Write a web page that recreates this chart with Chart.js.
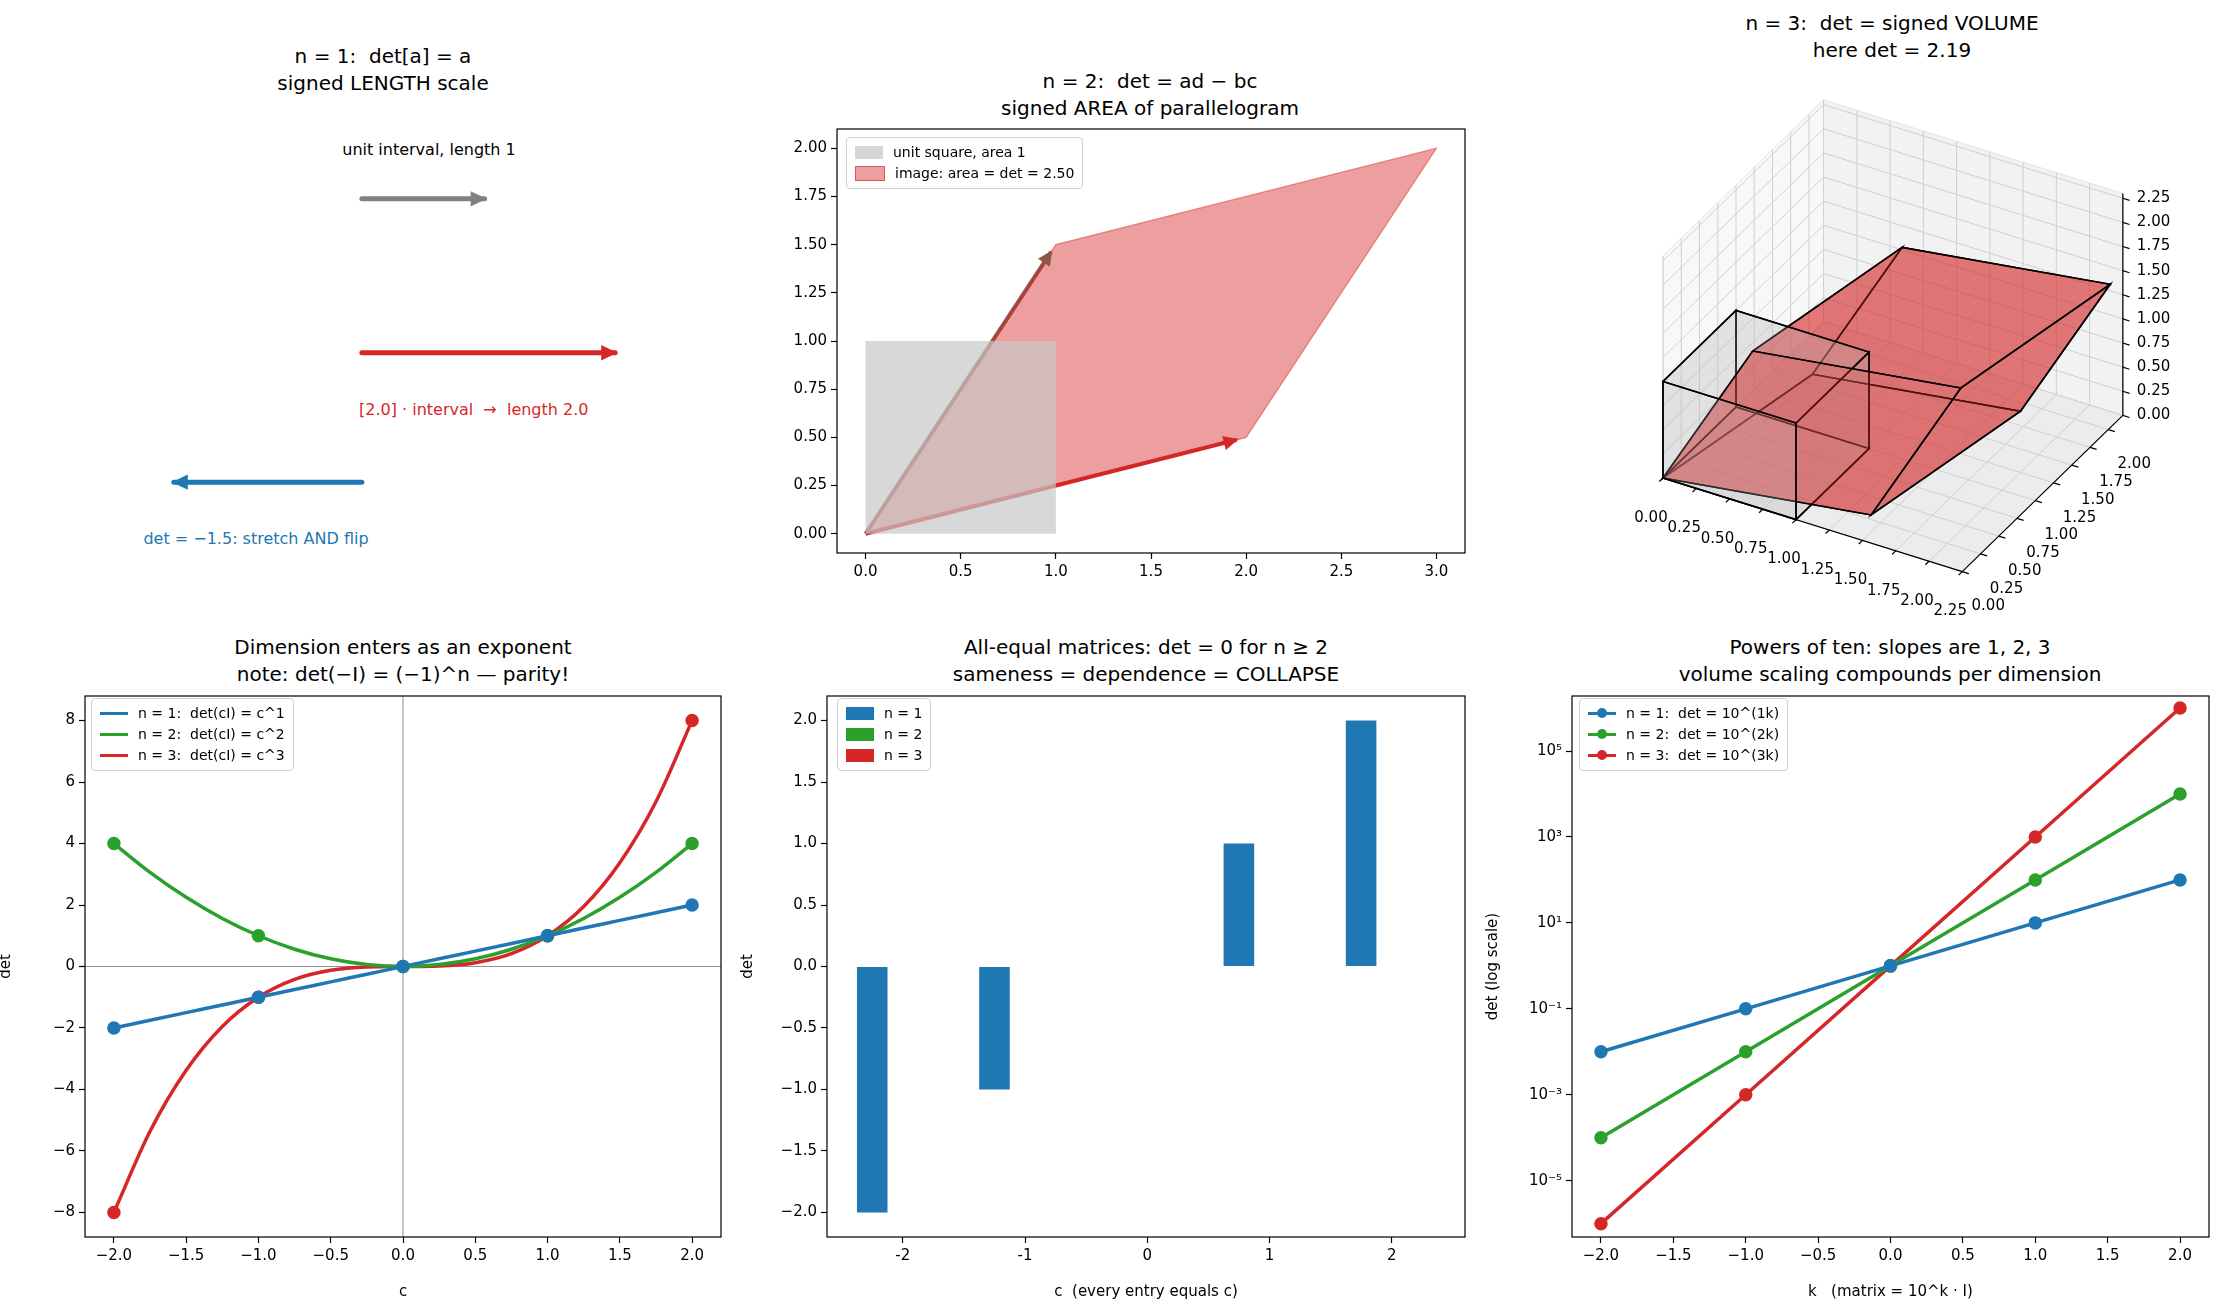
<!DOCTYPE html>
<html>
<head>
<meta charset="utf-8">
<script src="https://cdn.jsdelivr.net/npm/chart.js@4.4.1/dist/chart.umd.min.js"></script>
<style>
  body { margin: 0; background: #fff; font-family: "DejaVu Sans", sans-serif; }
  #fig { position: relative; width: 2225px; height: 1310px; overflow: hidden; }
  .box { position: absolute; }
  .ttl { position: absolute; font-size: 20px; text-align: center; line-height: 27px; white-space: nowrap; transform: translateX(-50%); }
  .txt { position: absolute; font-size: 16px; white-space: nowrap; }
  .leg { position: absolute; border: 1px solid #d0d0d0; border-radius: 4px; background: rgba(255,255,255,0.85); padding: 4px 8px; font-size: 14px; line-height: 21px; }
  .leg div { display: flex; align-items: center; white-space: nowrap; }
  .sw { display: inline-block; width: 28px; height: 13px; margin-right: 10px; }
  .ln { display: inline-block; width: 28px; height: 3px; margin-right: 10px; position: relative; }
  .ln i { position: absolute; left: 9px; top: -4px; width: 10px; height: 10px; border-radius: 50%; background: inherit; }
</style>
</head>
<body>
<div id="fig">
  <div class="ttl" style="left:383px;top:43px">n = 1:&nbsp; det[a] = a<br>signed LENGTH scale</div>
  <div class="ttl" style="left:1150px;top:68px">n = 2:&nbsp; det = ad − bc<br>signed AREA of parallelogram</div>
  <div class="ttl" style="left:1892px;top:10px">n = 3:&nbsp; det = signed VOLUME<br>here det = 2.19</div>
  <div class="ttl" style="left:403px;top:634px">Dimension enters as an exponent<br>note: det(−I) = (−1)^n — parity!</div>
  <div class="ttl" style="left:1146px;top:634px">All-equal matrices: det = 0 for n ≥ 2<br>sameness = dependence = COLLAPSE</div>
  <div class="ttl" style="left:1890px;top:634px">Powers of ten: slopes are 1, 2, 3<br>volume scaling compounds per dimension</div>

  <div class="txt" style="left:429px;top:140px;transform:translateX(-50%)">unit interval, length 1</div>
  <div class="txt" style="left:359px;top:400px;color:#d62728">[2.0] · interval &nbsp;→&nbsp; length 2.0</div>
  <div class="txt" style="left:256px;top:529px;transform:translateX(-50%);color:#1f77b4">det = −1.5: stretch AND flip</div>

  <div class="box" id="b1"><canvas id="c1"></canvas></div>
  <div class="box" id="b2"><canvas id="c2"></canvas></div>
  <div class="box" id="b3"><canvas id="c3"></canvas></div>
  <div class="box" id="b4"><canvas id="c4"></canvas></div>
  <div class="box" id="b5"><canvas id="c5"></canvas></div>
  <div class="box" id="b6"><canvas id="c6"></canvas></div>

  <div class="leg" style="left:846px;top:137px">
    <div><span class="sw" style="background:rgba(200,200,200,0.75)"></span>unit square, area 1</div>
    <div><span class="sw" style="background:rgba(214,39,40,0.45);border:1px solid rgba(214,39,40,0.6)"></span>image: area = det = 2.50</div>
  </div>
  <div class="leg" style="left:91px;top:698px">
    <div><span class="ln" style="background:#1f77b4"></span>n = 1:&nbsp; det(cI) = c^1</div>
    <div><span class="ln" style="background:#2ca02c"></span>n = 2:&nbsp; det(cI) = c^2</div>
    <div><span class="ln" style="background:#d62728"></span>n = 3:&nbsp; det(cI) = c^3</div>
  </div>
  <div class="leg" style="left:837px;top:698px">
    <div><span class="sw" style="background:#1f77b4"></span>n = 1</div>
    <div><span class="sw" style="background:#2ca02c"></span>n = 2</div>
    <div><span class="sw" style="background:#d62728"></span>n = 3</div>
  </div>
  <div class="leg" style="left:1579px;top:698px">
    <div><span class="ln" style="background:#1f77b4"><i></i></span>n = 1:&nbsp; det = 10^(1k)</div>
    <div><span class="ln" style="background:#2ca02c"><i></i></span>n = 2:&nbsp; det = 10^(2k)</div>
    <div><span class="ln" style="background:#d62728"><i></i></span>n = 3:&nbsp; det = 10^(3k)</div>
  </div>
</div>
<script>
// panel 1: 1-D intervals
const arrowStart = [0, 0, 0];
const arrowEnd = [1, 2, -1.5];
const arrowRow = [1, 0, -0.84];
const arrowColors = ["#808080", "#d62728", "#1f77b4"];

// panel 2: unit square and image parallelogram
const squareX = [0, 1, 1, 0, 0];
const squareY = [0, 0, 1, 1, 0];
const colA = [2, 0.5];
const colB = [1, 1.5];

// panel 3: 3x3 matrix columns (det = 2.19)
const vec1 = [1.4, 0.3, 0.0];
const vec2 = [0.3, 1.5, 0.1];
const vec3 = [0.4, 0.5, 1.12];
const ticks3d = [0, 0.25, 0.5, 0.75, 1, 1.25, 1.5, 1.75, 2, 2.25];
const ticks3dY = [0, 0.25, 0.5, 0.75, 1, 1.25, 1.5, 1.75, 2];

// panel 4: det(cI) = c^n
const cFine = [-2, -1.75, -1.5, -1.25, -1, -0.75, -0.5, -0.25, 0, 0.25, 0.5, 0.75, 1, 1.25, 1.5, 1.75, 2];
const detN1 = [-2, -1.75, -1.5, -1.25, -1, -0.75, -0.5, -0.25, 0, 0.25, 0.5, 0.75, 1, 1.25, 1.5, 1.75, 2];
const detN2 = [4, 3.0625, 2.25, 1.5625, 1, 0.5625, 0.25, 0.0625, 0, 0.0625, 0.25, 0.5625, 1, 1.5625, 2.25, 3.0625, 4];
const detN3 = [-8, -5.36, -3.375, -1.95, -1, -0.42, -0.125, -0.016, 0, 0.016, 0.125, 0.42, 1, 1.95, 3.375, 5.36, 8];

// panel 5: all-equal matrices
const cVals = [-2, -1, 0, 1, 2];
const barN1 = [-2, -1, 0, 1, 2];
const barN2 = [0, 0, 0, 0, 0];
const barN3 = [0, 0, 0, 0, 0];

// panel 6: powers of ten
const kVals = [-2, -1, 0, 1, 2];
const pow1 = [1e-2, 1e-1, 1, 1e1, 1e2];
const pow2 = [1e-4, 1e-2, 1, 1e2, 1e4];
const pow3 = [1e-6, 1e-3, 1, 1e3, 1e6];
const logTicks = [1e-5, 1e-3, 1e-1, 1e1, 1e3, 1e5];

const FONT = "DejaVu Sans";
Chart.defaults.font.family = FONT;
Chart.defaults.color = "#000";
Chart.defaults.animation = false;
Chart.defaults.plugins.legend.display = false;
Chart.defaults.plugins.tooltip.enabled = false;

const YW = 90, XH = 66;
function place(id, left, top, w, h) {
  const b = document.getElementById(id);
  b.style.left = (left - YW) + "px";
  b.style.top = (top - 12) + "px";
  b.style.width = (w + YW + 16) + "px";
  b.style.height = (h + XH + 12) + "px";
}
const minus = v => String(v).replace("-", "\u2212");
function fixed(d) { return v => minus(Number(v).toFixed(d)); }

function axis(min, max, step, fmt, title, isY) {
  return {
    type: "linear", min, max,
    ticks: { stepSize: step, includeBounds: false, callback: fmt, color: "#000", font: { size: 15 }, padding: 4, maxRotation: 0, autoSkip: false },
    grid: { display: true, drawOnChartArea: false, offset: false, tickLength: 6, tickColor: "#000", tickWidth: 1.2 },
    border: { display: false },
    title: title ? { display: true, text: title, color: "#000", font: { size: 15 }, padding: 2 } : { display: false },
    afterFit: s => { if (isY) s.width = YW; else s.height = XH; }
  };
}

const frame = {
  id: "frame",
  afterDraw(chart, args, opts) {
    if (opts.off) return;
    const a = chart.chartArea, c = chart.ctx;
    c.save();
    c.strokeStyle = "#000"; c.lineWidth = 1.2;
    c.strokeRect(a.left, a.top, a.right - a.left, a.bottom - a.top);
    c.restore();
  }
};
const zeroLines = {
  id: "zeroLines",
  beforeDatasetsDraw(chart, args, opts) {
    if (!opts.on) return;
    const a = chart.chartArea, c = chart.ctx;
    const x0 = chart.scales.x.getPixelForValue(0), y0 = chart.scales.y.getPixelForValue(0);
    c.save(); c.strokeStyle = "#909090"; c.lineWidth = 1;
    c.beginPath(); c.moveTo(x0, a.top); c.lineTo(x0, a.bottom); c.moveTo(a.left, y0); c.lineTo(a.right, y0); c.stroke();
    c.restore();
  }
};
const arrowHeads = {
  id: "arrowHeads",
  afterDatasetsDraw(chart) {
    const c = chart.ctx;
    chart.data.datasets.forEach((ds, i) => {
      if (!ds.head) return;
      const pts = chart.getDatasetMeta(i).data;
      const p0 = pts[pts.length - 2], p1 = pts[pts.length - 1];
      const ang = Math.atan2(p1.y - p0.y, p1.x - p0.x);
      const L = ds.head, W = ds.head * 0.55;
      c.save(); c.fillStyle = ds.borderColor; c.translate(p1.x, p1.y); c.rotate(ang);
      c.beginPath(); c.moveTo(2, 0); c.lineTo(-L, -W); c.lineTo(-L, W); c.closePath(); c.fill();
      c.restore();
    });
  }
};
Chart.register(frame, zeroLines, arrowHeads);

// ---------- panel 1 ----------
place("b1", 85, 128, 636, 425);
new Chart(document.getElementById("c1"), {
  type: "scatter",
  data: {
    datasets: arrowStart.map((s, i) => ({
      data: [{ x: s, y: arrowRow[i] }, { x: arrowEnd[i] - Math.sign(arrowEnd[i]) * 0.06, y: arrowRow[i] }],
      showLine: true, borderColor: arrowColors[i], borderWidth: 5, pointRadius: 0, borderCapStyle: "round", head: 14
    }))
  },
  options: {
    responsive: true, maintainAspectRatio: false,
    layout: { padding: { left: YW, top: 12, right: 16, bottom: XH } },
    scales: { x: { display: false, min: -2.12, max: 2.75 }, y: { display: false, min: -1.3, max: 1.46 } },
    plugins: { frame: { off: true } }
  }
});

// ---------- panel 2 ----------
place("b2", 837, 128, 628, 425);
const paraX = [0, colA[0], colA[0] + colB[0], colB[0], 0];
const paraY = [0, colA[1], colA[1] + colB[1], colB[1], 0];
new Chart(document.getElementById("c2"), {
  type: "scatter",
  data: {
    datasets: [
      { data: squareX.map((x, i) => ({ x, y: squareY[i] })), showLine: true, fill: "shape", backgroundColor: "rgba(200,200,200,0.7)", borderWidth: 0, borderColor: "rgba(0,0,0,0)", pointRadius: 0, tension: 0 },
      { data: paraX.map((x, i) => ({ x, y: paraY[i] })), showLine: true, fill: "shape", backgroundColor: "rgba(214,39,40,0.45)", borderColor: "rgba(214,39,40,0.5)", borderWidth: 1.2, pointRadius: 0, tension: 0 },
      { data: [{ x: 0, y: 0 }, { x: colB[0] * 0.975, y: colB[1] * 0.975 }], showLine: true, borderColor: "#8c564b", borderWidth: 4, pointRadius: 0, head: 13 },
      { data: [{ x: 0, y: 0 }, { x: colA[0] * 0.975, y: colA[1] * 0.975 }], showLine: true, borderColor: "#d62728", borderWidth: 4, pointRadius: 0, head: 13 }
    ]
  },
  options: {
    responsive: true, maintainAspectRatio: false,
    layout: { padding: { top: 12, right: 16 } },
    scales: {
      x: axis(-0.15, 3.15, 0.5, fixed(1), null, false),
      y: axis(-0.1, 2.1, 0.25, fixed(2), null, true)
    }
  }
});

// ---------- panel 3 (3-D) ----------
const b3 = document.getElementById("b3");
b3.style.left = "1550px"; b3.style.top = "0px"; b3.style.width = "675px"; b3.style.height = "640px";
const O3 = [113, 478], EX = [133, 41.6], EY = [73, -71], EZ = [0, -96.5];
const XM = 2.25, YM = 2.2, ZM = 2.3;
const proj = p => ({ x: O3[0] + EX[0] * p[0] + EY[0] * p[1] + EZ[0] * p[2], y: O3[1] + EX[1] * p[0] + EY[1] * p[1] + EZ[1] * p[2] });
const VIEW = [0.433, -0.75, 0.5];
function corner(i, j, k, a, b, c) { return [0, 1, 2].map(d => i * a[d] + j * b[d] + k * c[d]); }
function solidFaces(a, b, c, fill) {
  const f = [];
  for (const s of [0, 1]) {
    f.push([corner(s, 0, 0, a, b, c), corner(s, 1, 0, a, b, c), corner(s, 1, 1, a, b, c), corner(s, 0, 1, a, b, c)]);
    f.push([corner(0, s, 0, a, b, c), corner(1, s, 0, a, b, c), corner(1, s, 1, a, b, c), corner(0, s, 1, a, b, c)]);
    f.push([corner(0, 0, s, a, b, c), corner(1, 0, s, a, b, c), corner(1, 1, s, a, b, c), corner(0, 1, s, a, b, c)]);
  }
  return f.map(q => ({ q, fill }));
}
const scene3d = {
  id: "scene3d",
  afterDatasetsDraw(chart) {
    const c = chart.ctx, sx = chart.scales.x, sy = chart.scales.y;
    const px = p => { const q = proj(p); return [sx.getPixelForValue(q.x), sy.getPixelForValue(q.y)]; };
    const poly = (pts, fill, stroke, lw) => {
      c.beginPath(); pts.forEach((p, i) => { const [u, v] = px(p); i ? c.lineTo(u, v) : c.moveTo(u, v); }); c.closePath();
      if (fill) { c.fillStyle = fill; c.fill(); }
      if (stroke) { c.strokeStyle = stroke; c.lineWidth = lw; c.stroke(); }
    };
    const line = (p, q, col, lw) => { const a = px(p), b = px(q); c.beginPath(); c.moveTo(a[0], a[1]); c.lineTo(b[0], b[1]); c.strokeStyle = col; c.lineWidth = lw; c.stroke(); };
    c.save();
    // panes
    poly([[0, 0, 0], [0, YM, 0], [0, YM, ZM], [0, 0, ZM]], "#f8f8f8", "#e4e4e4", 1);
    poly([[0, YM, 0], [XM, YM, 0], [XM, YM, ZM], [0, YM, ZM]], "#f2f2f2", "#e4e4e4", 1);
    poly([[0, 0, 0], [XM, 0, 0], [XM, YM, 0], [0, YM, 0]], "#ececec", "#e4e4e4", 1);
    const g = "#cfcfcf";
    ticks3d.forEach(t => {
      if (t <= XM) { line([t, YM, 0], [t, YM, ZM], g, 1); line([t, 0, 0], [t, YM, 0], g, 1); }
      if (t <= YM) { line([0, t, 0], [0, t, ZM], g, 1); line([0, t, 0], [XM, t, 0], g, 1); }
      if (t <= ZM) { line([0, 0, t], [0, YM, t], g, 1); line([0, YM, t], [XM, YM, t], g, 1); }
    });
    // axes lines, ticks, labels
    line([0, 0, 0], [XM, 0, 0], "#000", 1.2);
    line([XM, 0, 0], [XM, YM, 0], "#000", 1.2);
    line([XM, YM, 0], [XM, YM, ZM], "#000", 1.2);
    c.fillStyle = "#000"; c.font = "15px " + FONT; c.textBaseline = "middle";
    ticks3d.forEach(t => {
      const p = px([t, 0, 0]);
      line([t, 0, 0], [t, -0.05, 0], "#000", 1.2);
      c.textAlign = "center"; c.fillText(t.toFixed(2), p[0] - 12, p[1] + 40);
    });
    ticks3dY.forEach(t => {
      const p = px([XM, t, 0]);
      line([XM, t, 0], [XM + 0.05, t, 0], "#000", 1.2);
      c.textAlign = "center"; c.fillText(t.toFixed(2), p[0] + 26, p[1] + 35);
    });
    ticks3d.forEach(t => {
      const p = px([XM, YM, t]);
      line([XM, YM, t], [XM + 0.05, YM, t], "#000", 1.2);
      c.textAlign = "left"; c.fillText(t.toFixed(2), p[0] + 14, p[1]);
    });
    // solids, painter's order
    const faces = solidFaces([1, 0, 0], [0, 1, 0], [0, 0, 1], "rgba(190,190,190,0.22)")
      .concat(solidFaces(vec1, vec2, vec3, "rgba(214,39,40,0.38)"));
    faces.forEach(f => { const cen = [0, 1, 2].map(d => f.q.reduce((s, p) => s + p[d], 0) / 4); f.depth = cen[0] * VIEW[0] + cen[1] * VIEW[1] + cen[2] * VIEW[2]; });
    faces.sort((a, b) => a.depth - b.depth);
    faces.forEach(f => poly(f.q, f.fill, "#000", 1.6));
    c.restore();
  }
};
new Chart(document.getElementById("c3"), {
  type: "scatter",
  data: { datasets: [{ data: [], pointRadius: 0 }] },
  options: {
    responsive: true, maintainAspectRatio: false,
    layout: { padding: 0 },
    scales: { x: { display: false, min: 0, max: 675 }, y: { display: false, min: 0, max: 640, reverse: true } },
    plugins: { frame: { off: true } }
  },
  plugins: [scene3d]
});

// ---------- panel 4 ----------
place("b4", 85, 695, 636, 542);
const dot = ctx => Number.isInteger(cFine[ctx.dataIndex]) ? 5 : 0;
function curve(vals, col) {
  return { data: cFine.map((x, i) => ({ x, y: vals[i] })), showLine: true, borderColor: col, backgroundColor: col, borderWidth: 3.5, pointRadius: dot, tension: 0.3, cubicInterpolationMode: "monotone" };
}
new Chart(document.getElementById("c4"), {
  type: "scatter",
  data: { datasets: [curve(detN1, "#1f77b4"), curve(detN2, "#2ca02c"), curve(detN3, "#d62728")] },
  options: {
    responsive: true, maintainAspectRatio: false,
    layout: { padding: { top: 12, right: 16 } },
    scales: { x: axis(-2.2, 2.2, 0.5, fixed(1), "c", false), y: axis(-8.8, 8.8, 2, v => minus(v), "det", true) },
    plugins: { zeroLines: { on: true } }
  }
});

// ---------- panel 5 ----------
place("b5", 827, 695, 638, 542);
const barSet = (vals, col) => ({ data: cVals.map((x, i) => ({ x, y: vals[i] })), backgroundColor: col, borderWidth: 0, barPercentage: 1, categoryPercentage: 0.75 });
new Chart(document.getElementById("c5"), {
  type: "bar",
  data: { datasets: [barSet(barN1, "#1f77b4"), barSet(barN2, "#2ca02c"), barSet(barN3, "#d62728")] },
  options: {
    responsive: true, maintainAspectRatio: false,
    layout: { padding: { top: 12, right: 16 } },
    scales: {
      x: Object.assign(axis(-2.62, 2.6, 1, v => String(v), "c  (every entry equals c)", false), { offset: false }),
      y: axis(-2.2, 2.2, 0.5, fixed(1), "det", true)
    }
  }
});

// ---------- panel 6 ----------
place("b6", 1572, 695, 637, 542);
const sup = { "-": "\u207b", "0": "\u2070", "1": "\u00b9", "2": "\u00b2", "3": "\u00b3", "4": "\u2074", "5": "\u2075", "6": "\u2076" };
const powSet = (vals, col) => ({ data: kVals.map((x, i) => ({ x, y: vals[i] })), showLine: true, borderColor: col, backgroundColor: col, borderWidth: 3.5, pointRadius: 5 });
const yLog = axis(0, 0, 1, v => "10" + String(Math.round(Math.log10(v))).split("").map(ch => sup[ch]).join(""), "det (log scale)", true);
yLog.type = "logarithmic"; yLog.min = Math.pow(10, -6.31); yLog.max = Math.pow(10, 6.28);
delete yLog.ticks.stepSize;
yLog.afterBuildTicks = s => { s.ticks = logTicks.map(v => ({ value: v })); };
new Chart(document.getElementById("c6"), {
  type: "scatter",
  data: { datasets: [powSet(pow1, "#1f77b4"), powSet(pow2, "#2ca02c"), powSet(pow3, "#d62728")] },
  options: {
    responsive: true, maintainAspectRatio: false,
    layout: { padding: { top: 12, right: 16 } },
    scales: { x: axis(-2.2, 2.2, 0.5, fixed(1), "k   (matrix = 10^k · I)", false), y: yLog }
  }
});
</script>
</body>
</html>
